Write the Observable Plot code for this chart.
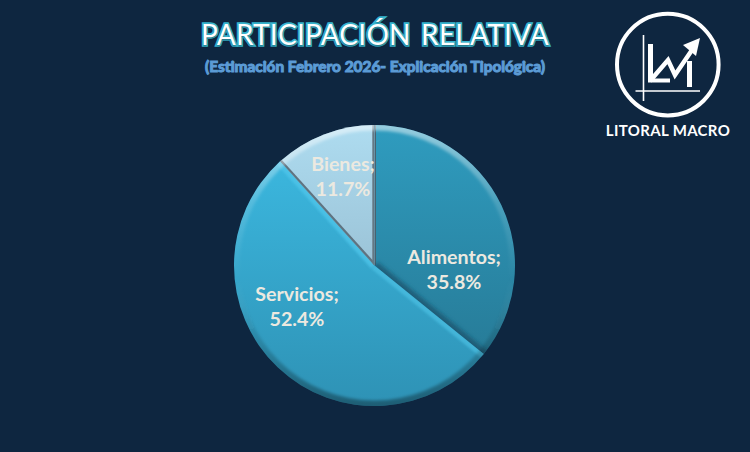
<!DOCTYPE html>
<html><head><meta charset="utf-8">
<script src="https://cdn.jsdelivr.net/npm/d3@7"></script>
<script src="https://cdn.jsdelivr.net/npm/@observablehq/plot@0.6"></script>
<style>
html,body{margin:0;padding:0;background:#0e2640;width:750px;height:452px;overflow:hidden}
#wrap{position:relative;width:750px;height:452px}
#title,#sub{position:absolute;left:0;width:750px;text-align:center;font-family:Lato,sans-serif;white-space:nowrap}
#title{left:0;top:17px;font-size:28px;font-weight:400;color:#fff;word-spacing:3px;letter-spacing:.25px;
 -webkit-text-stroke:3.4px #38b6d0;paint-order:stroke fill;text-shadow:0 1px 2px rgba(0,0,0,.45)}
#sub{left:0;top:57px;font-size:15.4px;font-weight:700;color:#5b9bd5;-webkit-text-stroke:1.1px #5b9bd5}
#logo{position:absolute;left:600px;top:5px}
svg.plot{position:absolute;left:0;top:0;background:transparent}
</style></head><body>
<div id="wrap">
<div id="title">PARTICIPACIÓN RELATIVA</div>
<div id="sub">(Estimación Febrero 2026- Explicación Tipológica)</div>
<svg id="logo" width="140" height="140" viewBox="0 0 140 140" fill="none" stroke="#fff" stroke-linecap="butt">
 <circle cx="67.8" cy="59.6" r="50.8" stroke-width="4"/>
 <path d="M43.5 30V96M35.5 86H100" stroke-width="1.6"/>
 <path d="M50.5 39V75" stroke-width="5"/>
 <path d="M50 76L68 55L75 70L92 45" stroke-width="4.5"/>
 <path d="M48 75.5H70" stroke-width="4"/>
 <path d="M89.5 56V82" stroke-width="5"/>
 <path d="M100 33L83 40L96 51Z" fill="#fff" stroke="none"/>
 <text x="68" y="130.5" text-anchor="middle" fill="#fff" stroke="none" font-family="Lato,sans-serif" font-weight="700" font-size="15" letter-spacing=".35">LITORAL MACRO</text>
</svg>
</div>
<script>
const categories = ["Alimentos", "Servicios", "Bienes"];
const shares = [35.8, 52.4, 11.7];
const tops = ["#2f9cbf", "#3dbce4", "#aedcf0"];
const bottoms = ["#25748f", "#2e92b5", "#88aabe"];
const labelColor = "#ece9e0";

const cx = 374.5, cy = 265.5, R = 140.5;
const table = categories.map((name, i) => ({name, share: shares[i]}));
const total = d3.sum(shares);
// per-slice edge styling: [colour, width, blur, opacity] for the slice's start and end rays
const edges = [
  [["#4a6270", 3, 0.3, 1], ["#175068", 9, 2.2, .75]],
  [["#4fc4e8", 9, 1.0, .6], ["#4fc6ea", 9, 1.0, .75]],
  [["#5f7380", 4.4, 0.6, 1], ["#647884", 4.4, 0.6, 1]]
];
// label centres relative to the pie centre
const labelOffsets = [[79.5, 4.5], [-77.5, 41], [-31.5, -89]];

function pieRender(index, scales, ch) {
  const root = d3.create("svg:g").attr("transform", `translate(${cx},${cy})`);
  const arc = d3.arc();
  const defs = root.append("defs");
  const userY = s => s.attr("gradientUnits","userSpaceOnUse").attr("x1",0).attr("x2",0).attr("y1",-R).attr("y2",R);
  index.forEach(i => {
    const lg = userY(defs.append("linearGradient").attr("id", "g" + i));
    lg.append("stop").attr("offset",0).attr("stop-color", tops[i]);
    lg.append("stop").attr("offset",1).attr("stop-color", bottoms[i]);
  });
  const rim = userY(defs.append("linearGradient").attr("id","rimL"));
  [[0,"#fff",.5],[.28,"#fff",.14],[.55,"#fff",0],[.75,"#000",.12],[1,"#000",.36]].forEach(([o,c,a]) =>
    rim.append("stop").attr("offset",o).attr("stop-color",c).attr("stop-opacity",a));
  [0.3,0.6,1,1.5,2.2].forEach(b => {
    defs.append("filter").attr("id","b"+String(b).replace(".","_"))
      .attr("filterUnits","userSpaceOnUse").attr("x",-R-20).attr("y",-R-20).attr("width",2*R+40).attr("height",2*R+40)
      .append("feGaussianBlur").attr("stdDeviation",b);
  });
  const ray = a => [R*1.05*Math.sin(a), -R*1.05*Math.cos(a)];
  index.forEach(i => {
    const d = arc({innerRadius:0, outerRadius:R, startAngle:ch.x1[i], endAngle:ch.x2[i]});
    defs.append("clipPath").attr("id","c"+i).append("path").attr("d",d);
    root.append("path").attr("d", d).attr("fill", `url(#g${i})`);
    const g = root.append("g").attr("clip-path",`url(#c${i})`);
    [ch.x1[i], ch.x2[i]].forEach((a, k) => {
      const [col,w,bl,op] = edges[i][k];
      const [x,y] = ray(a);
      g.append("line").attr("x1",0).attr("y1",0).attr("x2",x).attr("y2",y)
       .attr("stroke",col).attr("stroke-width",w).attr("stroke-opacity",op)
       .attr("filter",`url(#b${String(bl).replace(".","_")})`);
    });
    g.append("circle").attr("r",R).attr("fill","none").attr("stroke","url(#rimL)")
      .attr("stroke-width",11).attr("filter","url(#b1_5)");
  });
  return root.node();
}

const pie = Plot.plot({
  width: 750, height: 452, margin: 0,
  style: {background: "transparent", overflow: "visible"},
  x: {domain: [0, total], range: [0, 2 * Math.PI], axis: null},
  marks: [
    Plot.barX(table, {x: "share", fill: "name", order: null, render: pieRender}),
    Plot.text(table, {
      x: "share",
      text: "name",
      render(index) {
        const g = d3.create("svg:g");
        index.forEach(i => {
          const [dx, dy] = labelOffsets[i];
          const t = g.append("text").attr("text-anchor","middle")
            .attr("transform", `translate(${cx + dx},${cy + dy})`)
            .attr("font-family","Lato,sans-serif").attr("font-weight",700).attr("font-size",19.6)
            .attr("fill", labelColor);
          [table[i].name + ";", shares[i].toFixed(1) + "%"].forEach((s, k) =>
            t.append("tspan").attr("x",0).attr("y", k === 0 ? -6 : 19).text(s));
        });
        return g.node();
      }
    })
  ]
});
document.getElementById("wrap").appendChild(pie);
</script>
</body></html>
